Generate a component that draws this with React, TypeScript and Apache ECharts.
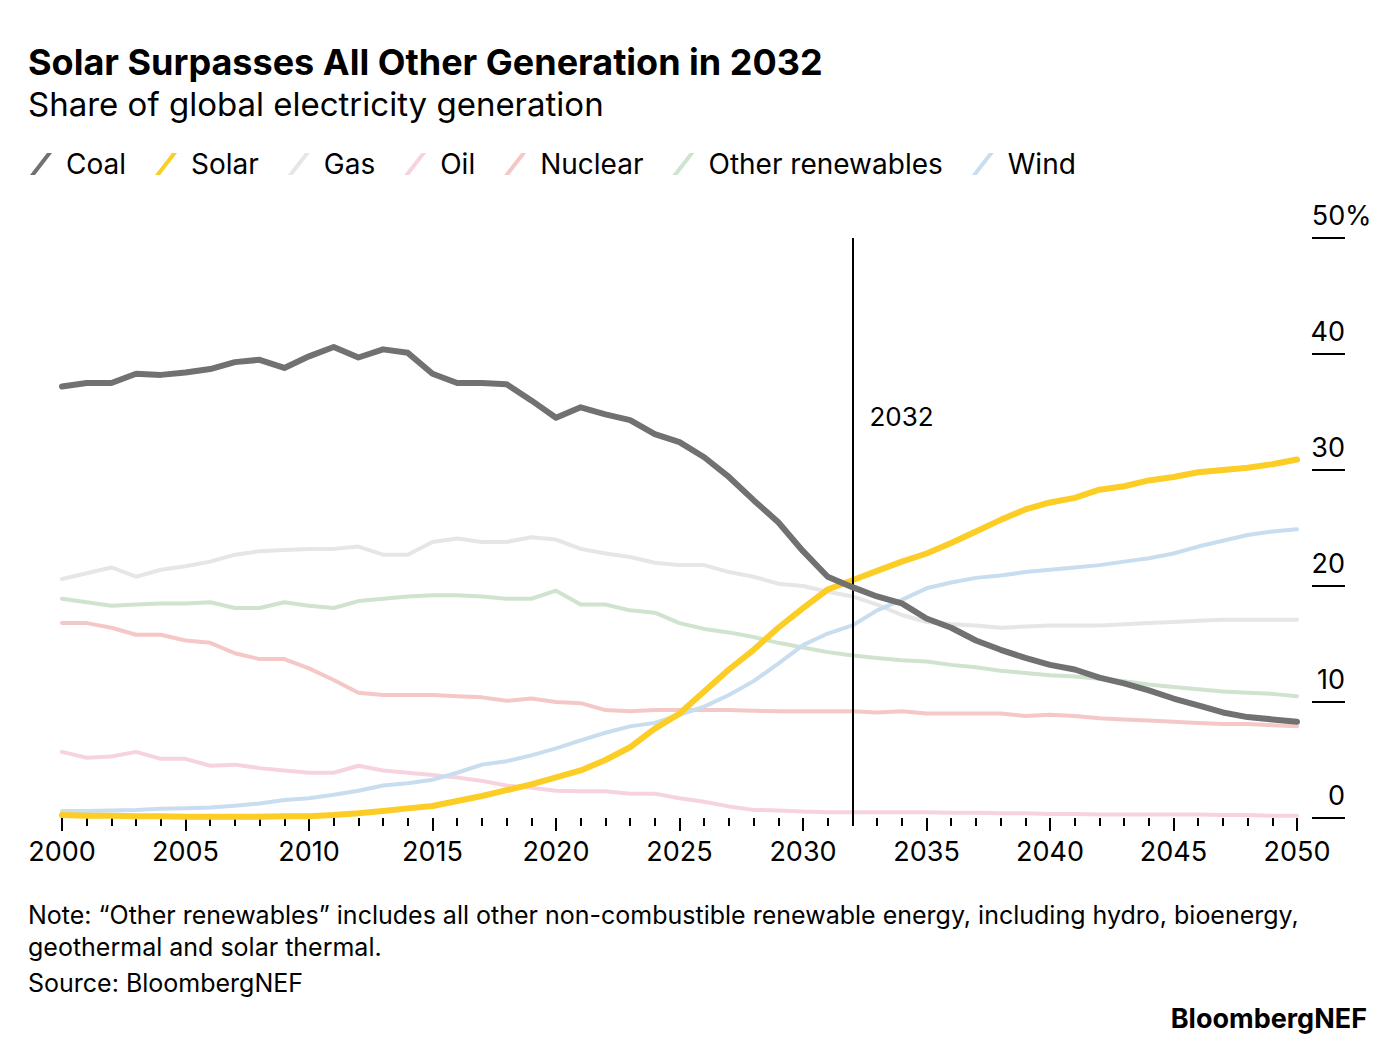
import React, { useEffect, useRef } from "react";
import * as echarts from "echarts";

const years = Array.from({ length: 51 }, (_, i) => 2000 + i);

const coal = [
  37.2, 37.5, 37.5, 38.3, 38.2, 38.4, 38.7, 39.3, 39.5, 38.8,
  39.8, 40.6, 39.7, 40.4, 40.1, 38.3, 37.5, 37.5, 37.4, 36.0,
  34.5, 35.4, 34.8, 34.3, 33.1, 32.4, 31.1, 29.4, 27.4, 25.5,
  23.0, 20.8, 19.9, 19.1, 18.5, 17.2, 16.4, 15.3, 14.5, 13.8,
  13.2, 12.8, 12.1, 11.6, 11.0, 10.3, 9.7, 9.1, 8.7, 8.5, 8.3,
];
const solar = [
  0.25, 0.2, 0.2, 0.15, 0.15, 0.1, 0.1, 0.1, 0.1, 0.15,
  0.15, 0.25, 0.4, 0.6, 0.83, 1.03, 1.47, 1.9, 2.4, 2.9,
  3.5, 4.1, 5.0, 6.1, 7.7, 9.0, 10.9, 12.8, 14.5, 16.4,
  18.1, 19.7, 20.5, 21.3, 22.1, 22.8, 23.7, 24.7, 25.7, 26.6,
  27.2, 27.6, 28.3, 28.6, 29.1, 29.4, 29.8, 30.0, 30.2, 30.5, 30.9,
];
const gas = [
  20.6, 21.1, 21.6, 20.8, 21.4, 21.7, 22.1, 22.7, 23.0, 23.1,
  23.2, 23.2, 23.4, 22.7, 22.7, 23.8, 24.1, 23.8, 23.8, 24.2,
  24.0, 23.2, 22.8, 22.5, 22.0, 21.8, 21.8, 21.2, 20.8, 20.2,
  20.0, 19.5, 19.1, 18.4, 17.5, 16.9, 16.7, 16.6, 16.4, 16.5,
  16.6, 16.6, 16.6, 16.7, 16.8, 16.9, 17.0, 17.1, 17.1, 17.1, 17.1,
];
const oil = [
  5.7, 5.2, 5.3, 5.7, 5.1, 5.1, 4.5, 4.6, 4.3, 4.1,
  3.9, 3.9, 4.5, 4.1, 3.9, 3.7, 3.5, 3.2, 2.8, 2.6,
  2.35, 2.3, 2.3, 2.1, 2.1, 1.7, 1.4, 1.0, 0.7, 0.65,
  0.55, 0.5, 0.5, 0.5, 0.5, 0.5, 0.45, 0.45, 0.4, 0.4,
  0.35, 0.35, 0.3, 0.3, 0.3, 0.3, 0.3, 0.25, 0.25, 0.2, 0.2,
];
const nuclear = [
  16.8, 16.8, 16.4, 15.8, 15.8, 15.3, 15.1, 14.2, 13.7, 13.7,
  12.9, 11.9, 10.8, 10.6, 10.6, 10.6, 10.5, 10.4, 10.1, 10.3,
  10.0, 9.9, 9.3, 9.2, 9.3, 9.3, 9.3, 9.3, 9.25, 9.2,
  9.2, 9.2, 9.2, 9.1, 9.2, 9.0, 9.0, 9.0, 9.0, 8.8,
  8.9, 8.8, 8.6, 8.5, 8.4, 8.3, 8.2, 8.1, 8.1, 8.0, 7.9,
];
const otherRenewables = [
  18.9, 18.6, 18.3, 18.4, 18.5, 18.5, 18.6, 18.1, 18.1, 18.6,
  18.3, 18.1, 18.7, 18.9, 19.1, 19.2, 19.2, 19.1, 18.9, 18.9,
  19.6, 18.4, 18.4, 17.9, 17.7, 16.8, 16.3, 16.0, 15.6, 15.1,
  14.7, 14.3, 14.0, 13.8, 13.6, 13.5, 13.2, 13.0, 12.7, 12.5,
  12.3, 12.2, 12.0, 11.8, 11.5, 11.3, 11.1, 10.9, 10.8, 10.7, 10.5,
];
const wind = [
  0.6, 0.6, 0.65, 0.7, 0.8, 0.85, 0.9, 1.05, 1.25, 1.55,
  1.7, 2.0, 2.35, 2.8, 3.0, 3.3, 3.9, 4.6, 4.9, 5.4,
  6.0, 6.7, 7.35, 7.9, 8.2, 8.9, 9.6, 10.6, 11.8, 13.3,
  14.9, 15.9, 16.6, 17.9, 18.8, 19.8, 20.3, 20.7, 20.9, 21.2,
  21.4, 21.6, 21.8, 22.1, 22.4, 22.8, 23.4, 23.9, 24.4, 24.7, 24.9,
];

const markerYear = 2032;

const FONT = "Inter, 'Liberation Sans', Arial, sans-serif";
const ICON = "path://M0,22 L5,22 L22,0 L17,0 Z";

const seriesDefs = [
  { name: "Coal", data: coal, color: "#717171", width: 6, z: 5 },
  { name: "Solar", data: solar, color: "#fccd25", width: 6, z: 4 },
  { name: "Gas", data: gas, color: "#e6e6e6", width: 4, z: 2 },
  { name: "Oil", data: oil, color: "#f6d3df", width: 4, z: 2 },
  { name: "Nuclear", data: nuclear, color: "#f4c8c6", width: 4, z: 2 },
  { name: "Other renewables", data: otherRenewables, color: "#cfe3cf", width: 4, z: 2 },
  { name: "Wind", data: wind, color: "#c8ddef", width: 4, z: 3 },
];

const App: React.FC = () => {
  const chartRef = useRef<HTMLDivElement | null>(null);

  useEffect(() => {
    if (!chartRef.current) return;
    const chart = echarts.init(chartRef.current, undefined, { renderer: "svg" });

    const option: echarts.EChartsOption = {
      animation: false,
      backgroundColor: "#ffffff",
      textStyle: { fontFamily: FONT, color: "#000" },
      title: [
        {
          text: "Solar Surpasses All Other Generation in 2032",
          subtext: "Share of global electricity generation",
          left: 28,
          top: 44,
          itemGap: 7,
          padding: 0,
          textStyle: { fontFamily: FONT, fontSize: 36, fontWeight: "bold", color: "#000" },
          subtextStyle: { fontFamily: FONT, fontSize: 33, color: "#000" },
        },
        {
          text:
            "Note: \u201cOther renewables\u201d includes all other non-combustible renewable energy, including hydro, bioenergy,\ngeothermal and solar thermal.",
          left: 28,
          top: 899,
          padding: 0,
          textStyle: { fontFamily: FONT, fontSize: 25, fontWeight: "normal", color: "#000", lineHeight: 32 },
        },
        {
          text: "Source: BloombergNEF",
          left: 28,
          top: 970,
          padding: 0,
          textStyle: { fontFamily: FONT, fontSize: 25, fontWeight: "normal", color: "#000" },
        },
        {
          text: "BloombergNEF",
          right: 29,
          top: 1005,
          padding: 0,
          textStyle: { fontFamily: FONT, fontSize: 27, fontWeight: "bold", color: "#000" },
        },
      ],
      legend: {
        left: 30,
        top: 150,
        padding: 0,
        itemWidth: 22,
        itemHeight: 24,
        itemGap: 29,
        icon: ICON,
        selectedMode: false,
        data: seriesDefs.map((s) => s.name),
        textStyle: { fontFamily: FONT, fontSize: 28, color: "#000", padding: [0, 0, 0, 9] },
      },
      grid: { left: 62, right: 99, top: 238, bottom: 244 },
      xAxis: {
        type: "value",
        min: 2000,
        max: 2050,
        interval: 5,
        axisLine: { show: false },
        axisTick: { show: true, length: 13, lineStyle: { color: "#000", width: 2 } },
        minorTick: { show: true, splitNumber: 5, length: 8, lineStyle: { color: "#000", width: 2 } },
        splitLine: { show: false },
        minorSplitLine: { show: false },
        axisLabel: {
          margin: 20,
          fontFamily: FONT,
          fontSize: 27,
          color: "#000",
          formatter: (v: number) => String(v),
        },
      },
      yAxis: {
        type: "value",
        position: "right",
        offset: 15,
        min: 0,
        max: 50,
        interval: 10,
        axisLine: { show: false },
        axisTick: { show: true, length: 33, lineStyle: { color: "#000", width: 2 } },
        splitLine: { show: false },
        axisLabel: {
          margin: 0,
          align: "left",
          verticalAlign: "bottom",
          padding: [0, 0, 9, 0],
          fontFamily: FONT,
          fontSize: 27,
          color: "#000",
          formatter: (v: number) => (v === 50 ? "{n|50}{p|%}" : "{n|" + v + "}"),
          rich: {
            n: { width: 33, align: "right", fontFamily: FONT, fontSize: 27, color: "#000" },
            p: { fontFamily: FONT, fontSize: 27, color: "#000" },
          },
        },
      },
      series: seriesDefs.map((s, i) => ({
        name: s.name,
        type: "line",
        data: years.map((y, k) => [y, s.data[k]]),
        showSymbol: false,
        symbol: "none",
        z: s.z,
        color: s.color,
        lineStyle: { color: s.color, width: s.width, join: "round", cap: "round" },
        itemStyle: { color: s.color },
        emphasis: { disabled: true },
        markLine:
          i === 0
            ? {
                silent: true,
                symbol: "none",
                label: { show: false },
                lineStyle: { color: "#000", width: 2, type: "solid" },
                data: [{ xAxis: markerYear }],
              }
            : undefined,
      })),
    };

    chart.setOption(option);

    const [px, py] = chart.convertToPixel({ gridIndex: 0 }, [markerYear, 34.6]) as number[];
    chart.setOption({
      graphic: [
        {
          type: "text",
          x: px + 17,
          y: py,
          style: {
            text: String(markerYear),
            fontFamily: FONT,
            fontSize: 26,
            fill: "#000",
            verticalAlign: "middle",
          },
        },
      ],
    });

    return () => {
      chart.dispose();
    };
  }, []);

  return (
    <div
      ref={chartRef}
      style={{ position: "absolute", left: 0, top: 0, width: "1396px", height: "1062px" }}
    />
  );
};

export default App;
